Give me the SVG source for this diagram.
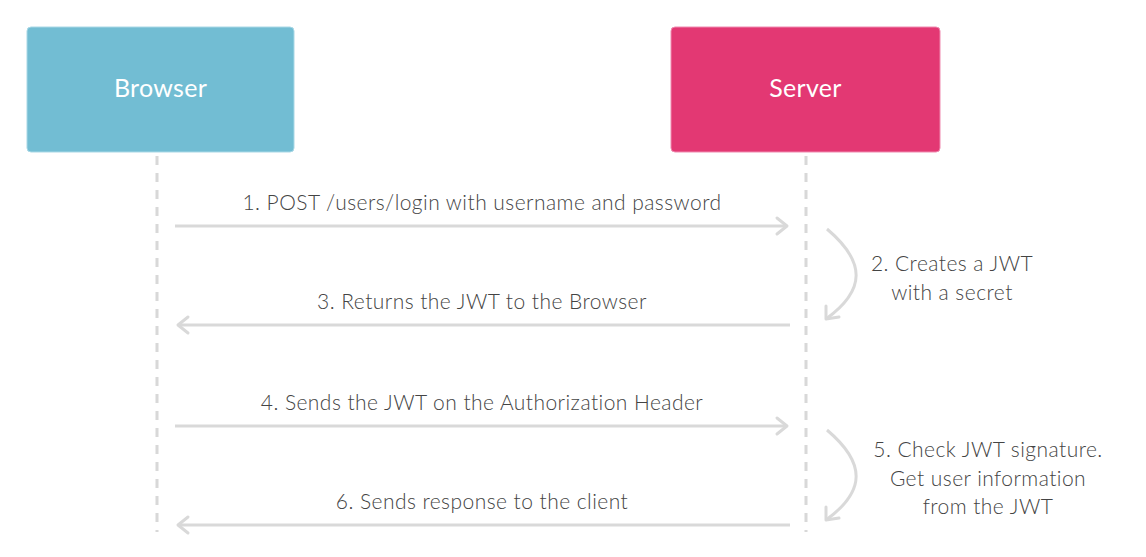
<svg xmlns="http://www.w3.org/2000/svg" width="1146" height="557" viewBox="0 0 1146 557">
<defs>
<style>
.box-label{font-family:Lato,"Noto Sans",sans-serif;font-size:25px;fill:#ffffff;text-anchor:middle;letter-spacing:0.3px}
.lbl{font-family:Lato,"Noto Sans",sans-serif;font-size:21px;font-weight:300;fill:#444444;text-anchor:middle;letter-spacing:0.45px}
.life{stroke:#d8d8d8;stroke-width:3;stroke-dasharray:9 8;fill:none}
.msg{stroke:#d9d9d9;stroke-width:3;fill:none}
.head{stroke:#d9d9d9;stroke-width:3;fill:none;stroke-linecap:round;stroke-linejoin:round}
</style>
</defs>
<rect width="1146" height="557" fill="#ffffff"/>
<g id="browser">
<rect x="27" y="27" width="267" height="125" rx="4" fill="#72bdd3" stroke="#a9d8e6" stroke-width="1"/>
<text class="box-label" x="160.5" y="97">Browser</text>
</g>
<g id="server">
<rect x="671" y="27" width="269" height="125" rx="4" fill="#e33873" stroke="#ef8ab0" stroke-width="1"/>
<text class="box-label" x="805.5" y="97">Server</text>
</g>
<g id="connectors">
<line class="life" x1="157" y1="156" x2="157" y2="532"/>
<line class="life" x1="806" y1="156" x2="806" y2="532"/>
<line class="msg" x1="175" y1="226" x2="787" y2="226"/>
<polyline class="head" points="777,218 787,226 777,234"/>
<line class="msg" x1="790" y1="325" x2="178" y2="325"/>
<polyline class="head" points="188,317 178,325 188,333"/>
<line class="msg" x1="175" y1="426" x2="787" y2="426"/>
<polyline class="head" points="777,418 787,426 777,434"/>
<line class="msg" x1="790" y1="525" x2="178" y2="525"/>
<polyline class="head" points="188,517 178,525 188,533"/>
<path class="msg" d="M827,229 C866,262 866,290 826,319"/>
<polyline class="head" points="826,306 826,319 839,317"/>
<path class="msg" d="M827,430 C866,463 866,491 826,520"/>
<polyline class="head" points="826,507 826,520 839,518"/>
</g>
<g id="labels">
<text class="lbl" x="482" y="210">1. POST /users/login with username and password</text>
<text class="lbl" x="952" y="271">2. Creates a JWT</text>
<text class="lbl" x="952" y="300">with a secret</text>
<text class="lbl" x="482" y="309">3. Returns the JWT to the Browser</text>
<text class="lbl" x="482" y="410">4. Sends the JWT on the Authorization Header</text>
<text class="lbl" x="988" y="457">5. Check JWT signature.</text>
<text class="lbl" x="988" y="486">Get user information</text>
<text class="lbl" x="988" y="514">from the JWT</text>
<text class="lbl" x="482" y="509">6. Sends response to the client</text>
</g>
</svg>
